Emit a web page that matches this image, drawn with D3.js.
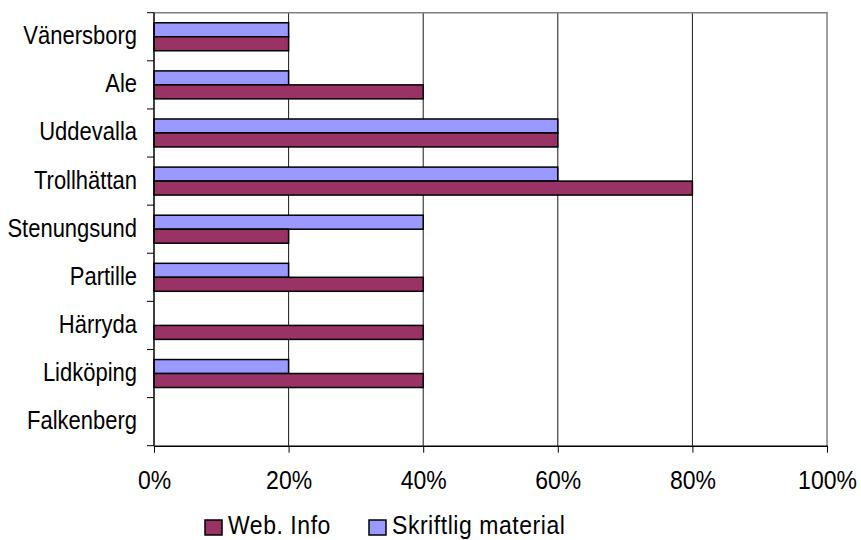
<!DOCTYPE html>
<html>
<head>
<meta charset="utf-8">
<script src="https://cdn.jsdelivr.net/npm/d3@7"></script>
<style>
  html, body { margin: 0; padding: 0; background: #fff; }
  svg text { font-family: "Liberation Sans", Arial, sans-serif; fill: #000; }
</style>
</head>
<body>
<svg id="chart" width="861" height="540"></svg>
<script>
// Municipalities, top to bottom
const categories = ["Vänersborg", "Ale", "Uddevalla", "Trollhättan", "Stenungsund",
                    "Partille", "Härryda", "Lidköping", "Falkenberg"];
// Share of respondents per channel (0–1)
const webInfo    = [0.20, 0.40, 0.60, 0.80, 0.20, 0.40, 0.40, 0.40, 0.00];
const skriftlig  = [0.20, 0.20, 0.60, 0.60, 0.40, 0.20, 0.00, 0.20, 0.00];
const seriesNames = ["Skriftlig material", "Web. Info"];   // drawing order inside a group
const legendNames = ["Web. Info", "Skriftlig material"];
const xTicks = [0, 0.2, 0.4, 0.6, 0.8, 1.0];

const colors = { "Web. Info": "#993366", "Skriftlig material": "#9999FF" };
const values = { "Web. Info": webInfo, "Skriftlig material": skriftlig };

const svg = d3.select("#chart");
const plot = { left: 154, right: 827, top: 12.7, bottom: 445.7 };

const x = d3.scaleLinear().domain([0, 1]).range([plot.left, plot.right]);
const y = d3.scaleBand().domain(categories).range([plot.top, plot.bottom]).padding(0);
const ySub = d3.scaleBand().domain(seriesNames).range([0, y.bandwidth()])
  .paddingInner(0).paddingOuter(0.72);

const stretch = 1.15;  // glyphs are drawn slightly taller than wide

// Vertical gridlines
svg.append("g").selectAll("line")
  .data(xTicks.slice(1, -1))
  .join("line")
  .attr("x1", d => x(d)).attr("x2", d => x(d))
  .attr("y1", plot.top).attr("y2", plot.bottom)
  .attr("stroke", "#1a1a1a").attr("stroke-width", 1);

// Top and right border of the plot area
svg.append("path")
  .attr("d", `M${plot.left},${plot.top}H${plot.right}V${plot.bottom}`)
  .attr("fill", "none").attr("stroke", "#808080").attr("stroke-width", 1.5);

// Bars
const groups = svg.append("g").selectAll("g")
  .data(categories)
  .join("g")
  .attr("transform", d => `translate(0,${y(d)})`);

groups.selectAll("rect")
  .data((c, i) => seriesNames.map(s => ({ s, v: values[s][i] })))
  .join("rect")
  .filter(d => d.v > 0)
  .attr("x", x(0))
  .attr("y", d => ySub(d.s))
  .attr("width", d => x(d.v) - x(0))
  .attr("height", ySub.bandwidth())
  .attr("fill", d => colors[d.s])
  .attr("stroke", "#000")
  .attr("stroke-width", 1.5);

// Bottom axis
const xAxis = svg.append("g")
  .attr("transform", `translate(0,${plot.bottom})`)
  .call(d3.axisBottom(x).tickValues(xTicks).tickFormat(d3.format(".0%"))
    .tickSizeInner(7).tickSizeOuter(0).tickPadding(0));
xAxis.select(".domain").attr("stroke", "#000").attr("stroke-width", 1.5);
xAxis.selectAll(".tick line").attr("stroke", "#000").attr("stroke-width", 1);
xAxis.selectAll(".tick text")
  .attr("font-size", 23)
  .attr("y", 0).attr("dy", null)
  .attr("transform", `translate(0,43) scale(1,${stretch})`);

// Left axis with tick marks between categories
const yEdges = categories.map(c => y(c)).concat([plot.bottom]);
svg.append("line")
  .attr("x1", plot.left).attr("x2", plot.left)
  .attr("y1", plot.top).attr("y2", plot.bottom)
  .attr("stroke", "#000").attr("stroke-width", 1.5);
svg.append("g").selectAll("line")
  .data(yEdges)
  .join("line")
  .attr("x1", plot.left - 7).attr("x2", plot.left)
  .attr("y1", d => d).attr("y2", d => d)
  .attr("stroke", "#000").attr("stroke-width", 1);

svg.append("g").selectAll("text")
  .data(categories)
  .join("text")
  .attr("text-anchor", "end")
  .attr("font-size", 22)
  .attr("transform", d => `translate(137,${y(d) + y.bandwidth() / 2 + 7.5}) scale(1,${stretch})`)
  .text(d => d);

// Legend
const legendX = [205, 369];
const legend = svg.append("g").selectAll("g")
  .data(legendNames)
  .join("g")
  .attr("transform", (d, i) => `translate(${legendX[i]},520)`);
legend.append("rect")
  .attr("width", 17).attr("height", 15)
  .attr("fill", d => colors[d])
  .attr("stroke", "#000").attr("stroke-width", 1.5);
legend.append("text")
  .attr("font-size", 23)
  .attr("letter-spacing", 0.55)
  .attr("transform", `translate(23,14) scale(1,${stretch})`)
  .text(d => d);
</script>
</body>
</html>
